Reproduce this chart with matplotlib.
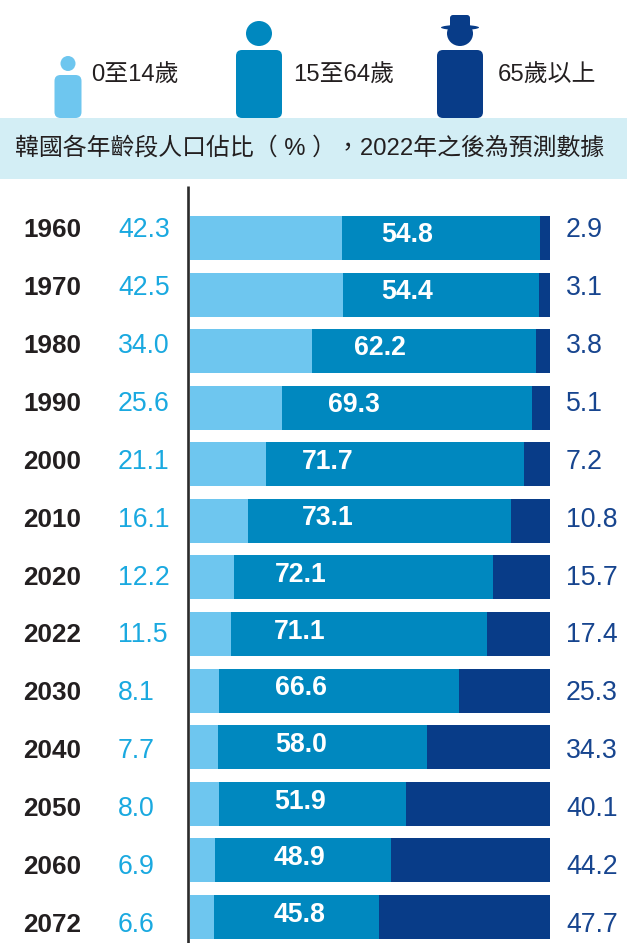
#!/usr/bin/env python3
import matplotlib
matplotlib.use("Agg")
import matplotlib.pyplot as plt
from matplotlib.patches import Ellipse, FancyBboxPatch, Rectangle

plt.rcParams['font.family'] = ['Liberation Sans', 'Noto Sans CJK TC', 'DejaVu Sans']

# Data
years = ['1960', '1970', '1980', '1990', '2000', '2010', '2020', '2022',
         '2030', '2040', '2050', '2060', '2072']
age_0_14 = [42.3, 42.5, 34.0, 25.6, 21.1, 16.1, 12.2, 11.5, 8.1, 7.7, 8.0, 6.9, 6.6]
age_15_64 = [54.8, 54.4, 62.2, 69.3, 71.7, 73.1, 72.1, 71.1, 66.6, 58.0, 51.9, 48.9, 45.8]
age_65 = [2.9, 3.1, 3.8, 5.1, 7.2, 10.8, 15.7, 17.4, 25.3, 34.3, 40.1, 44.2, 47.7]
legend_labels = ['0至14歲', '15至64歲', '65歲以上']
title = '韓國各年齡段人口佔比（ % ），2022年之後為預測數據'

LIGHT = '#6ec6ef'
MID = '#0088bf'
DARK = '#083c88'
W, H = 627, 943

fig = plt.figure(figsize=(W / 100, H / 100), dpi=100)

# Overlay in pixel coordinates for the header, icons and hand-placed labels
bg = fig.add_axes([0, 0, 1, 1])
bg.set_xlim(0, W)
bg.set_ylim(H, 0)
bg.axis('off')

bg.add_patch(Rectangle((0, 118), W, 61, color='#d3eef5', lw=0))
bg.text(15, 148, title, fontsize=17.2, color='#231f20', va='center', ha='left')


def person(cx, head_y, head_w, head_h, body_w, body_top, color):
    bg.add_patch(Ellipse((cx, head_y), head_w, head_h, color=color, lw=0))
    bg.add_patch(FancyBboxPatch((cx - body_w / 2 + 6, body_top + 6), body_w - 12, 96 - body_top + 10,
                                boxstyle='round,pad=6,rounding_size=6', color=color, lw=0,
                                clip_on=True, clip_path=Rectangle((0, 0), W, 96, transform=bg.transData)))


person(68, 63.5, 15, 15, 27, 75, LIGHT)
person(259, 33.5, 26, 25, 46, 50, MID)
person(460, 33.5, 26, 25, 46, 50, DARK)
# hat
bg.add_patch(Ellipse((460, 27.5), 38, 5, color=DARK, lw=0))
bg.add_patch(FancyBboxPatch((453, 18), 14, 8, boxstyle='round,pad=3,rounding_size=3', color=DARK, lw=0))

for x, label in zip([91, 293, 498], legend_labels):
    bg.text(x, 76, label, fontsize=17.2, color='#231f20', va='center', ha='left')

# Bars
ax = fig.add_axes([190 / W, 0, 360 / W, (H - 186) / H])
ax.patch.set_alpha(0)
left_mid = [a for a in age_0_14]
left_old = [a + b for a, b in zip(age_0_14, age_15_64)]
pos = list(range(len(years)))
ax.barh(pos, age_0_14, height=44 / 56.58, color=LIGHT, lw=0)
ax.barh(pos, age_15_64, left=left_mid, height=44 / 56.58, color=MID, lw=0)
ax.barh(pos, age_65, left=left_old, height=44 / 56.58, color=DARK, lw=0)
ax.set_xlim(0, 100)
ax.set_ylim((943 - 238) / 56.58, (186 - 238) / 56.58)
ax.axis('off')

# Axis line
bg.plot([188.3, 188.3], [186, H], color='#2b2b2b', lw=1.9, solid_capstyle='butt')

# Labels, which drift from the bar rows in the original
mid_label_x = [407, 407, 380, 354, 328, 328, 301, 300, 301, 301, 300, 300, 300]
for i, year in enumerate(years):
    row_y = 230 + i * 57.92
    bg.text(23, row_y, year, fontsize=18.8, fontweight='bold', color='#231f20', va='center', ha='left')
    bg.text(118, row_y, f'{age_0_14[i]:.1f}', fontsize=19.2, color='#1aa9e0', va='center', ha='left')
    bg.text(566, row_y, f'{age_65[i]:.1f}', fontsize=19.2, color='#17458f', va='center', ha='left')
    bg.text(mid_label_x[i], 235 + i * 56.67, f'{age_15_64[i]:.1f}', fontsize=19.2, fontweight='bold',
            color='white', va='center', ha='center', zorder=5)

# bars axes sit above bg, so keep the labels on top
bg.set_zorder(2)
bg.patch.set_alpha(0)
ax.set_zorder(1)

plt.savefig('out.png', dpi=100)
plt.close()
